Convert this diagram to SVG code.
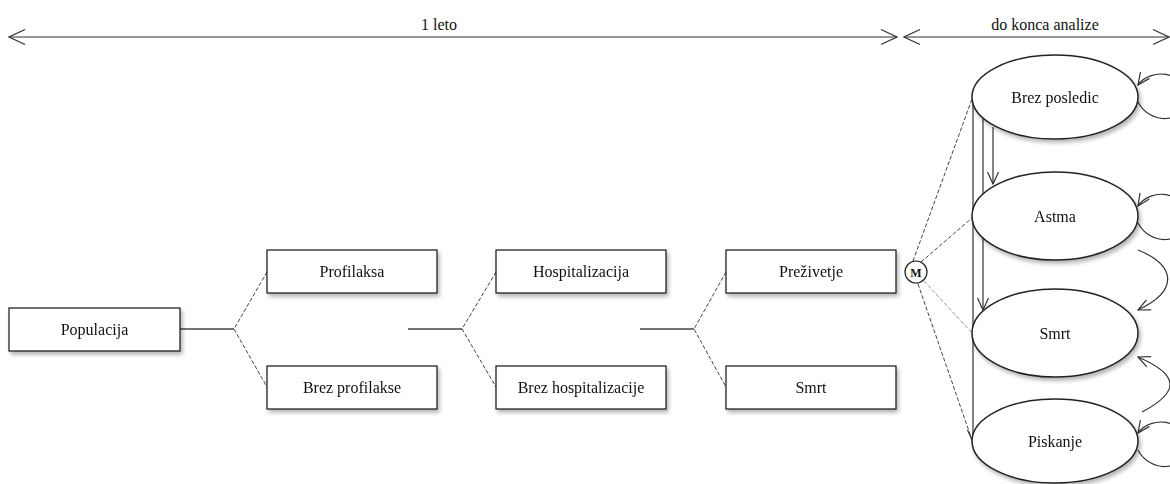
<svg xmlns="http://www.w3.org/2000/svg" width="1170" height="484" viewBox="0 0 1170 484">
<style>
.box{fill:#fff;stroke:#111;stroke-width:1.2}
.ell{fill:#fff;stroke:#222;stroke-width:1.5}
.t{font-family:"Liberation Serif","DejaVu Serif",serif;font-size:16px;fill:#111;text-anchor:middle}
.h{stroke:#444;stroke-width:1.3;fill:none}
.d{stroke:#444;stroke-width:1;stroke-dasharray:4,2;fill:none}
.dl{stroke:#777;stroke-width:0.8;stroke-dasharray:4,2;fill:none}
.a{stroke:#333;stroke-width:1.2;fill:none}
</style>
<defs>
<filter id="sh" x="-20%" y="-20%" width="150%" height="150%">
<feGaussianBlur in="SourceAlpha" stdDeviation="2"/>
<feOffset dx="2" dy="3" result="o"/>
<feComponentTransfer><feFuncA type="linear" slope="0.3"/></feComponentTransfer>
<feMerge><feMergeNode/><feMergeNode in="SourceGraphic"/></feMerge>
</filter>
<marker id="ar" viewBox="0 0 14 14" refX="13" refY="7" markerWidth="14" markerHeight="14" markerUnits="userSpaceOnUse" orient="auto-start-reverse">
<path d="M1,1.5 L13,7 L1,12.5" fill="none" stroke="#333" stroke-width="1.2"/>
</marker>
<marker id="big" viewBox="0 0 18 18" refX="17" refY="9" markerWidth="18" markerHeight="18" markerUnits="userSpaceOnUse" orient="auto-start-reverse">
<path d="M1,1.5 L17,9 L1,16.5" fill="none" stroke="#333" stroke-width="1.2"/>
</marker>
</defs>

<g id="timeline">
<line x1="9" y1="37" x2="897" y2="37" class="a" marker-start="url(#big)" marker-end="url(#big)"/>
<text x="439" y="30" class="t">1 leto</text>
<line x1="904" y1="37" x2="1169" y2="37" class="a" marker-start="url(#big)" marker-end="url(#big)"/>
<text x="1045" y="30" class="t">do konca analize</text>
</g>

<g id="connectors">
<line x1="180" y1="329" x2="234" y2="329" class="h"/>
<polyline points="267,272 234,329 267,387" class="d"/>
<line x1="408" y1="329" x2="462" y2="329" class="h"/>
<polyline points="496,272 462,329 496,387" class="d"/>
<line x1="640" y1="329" x2="694" y2="329" class="h"/>
<polyline points="726,272 694,329 726,387" class="d"/>
<line x1="913" y1="261" x2="972" y2="99" class="d"/>
<line x1="921" y1="262" x2="972" y2="218" class="d"/>
<line x1="924" y1="281" x2="972" y2="333" class="dl"/>
<line x1="918" y1="284" x2="972" y2="440" class="d" stroke-width="1.4"/>
<line x1="973" y1="100" x2="973" y2="442" class="a" marker-end="url(#ar)"/>
<line x1="983" y1="117" x2="983" y2="310" class="a" marker-end="url(#ar)"/>
<line x1="993" y1="127" x2="993" y2="184" class="a" marker-end="url(#ar)"/>
<path d="M1138,102 C1150,125 1185,125 1185,96 C1185,70 1150,68 1138,85" class="a" marker-end="url(#ar)"/>
<path d="M1138,223 C1150,246 1185,246 1185,217 C1185,190 1150,188 1138,206" class="a" marker-end="url(#ar)"/>
<path d="M1138,250 C1175,265 1180,290 1138,310" class="a" marker-end="url(#ar)"/>
<path d="M1142,412 C1180,392 1180,375 1138,357" class="a" marker-end="url(#ar)"/>
<path d="M1138,450 C1150,473 1185,473 1185,444 C1185,418 1150,416 1138,433" class="a" marker-end="url(#ar)"/>
</g>

<g id="n-populacija" filter="url(#sh)"><rect x="9" y="308" width="171" height="43" class="box"/><text x="94.5" y="335" class="t">Populacija</text></g>
<g id="n-profilaksa" filter="url(#sh)"><rect x="267" y="250" width="170" height="43" class="box"/><text x="352" y="277" class="t">Profilaksa</text></g>
<g id="n-brez-profilakse" filter="url(#sh)"><rect x="267" y="366" width="170" height="43" class="box"/><text x="352" y="393" class="t">Brez profilakse</text></g>
<g id="n-hospitalizacija" filter="url(#sh)"><rect x="496" y="250" width="170" height="43" class="box"/><text x="581" y="277" class="t">Hospitalizacija</text></g>
<g id="n-brez-hospitalizacije" filter="url(#sh)"><rect x="496" y="366" width="170" height="43" class="box"/><text x="581" y="393" class="t">Brez hospitalizacije</text></g>
<g id="n-prezivetje" filter="url(#sh)"><rect x="726" y="250" width="170" height="43" class="box"/><text x="811" y="277" class="t">Preživetje</text></g>
<g id="n-smrt1" filter="url(#sh)"><rect x="726" y="366" width="170" height="43" class="box"/><text x="811" y="393" class="t">Smrt</text></g>

<g id="n-m"><circle cx="916" cy="272" r="11" fill="#fff" stroke="#222" stroke-width="1.2"/><text x="916" y="276.5" class="t" style="font-size:12px;font-weight:bold">M</text></g>

<g id="n-brez-posledic" filter="url(#sh)"><ellipse cx="1055" cy="97" rx="83" ry="42" class="ell"/><text x="1055" y="103" class="t">Brez posledic</text></g>
<g id="n-astma" filter="url(#sh)"><ellipse cx="1055" cy="216" rx="83" ry="44" class="ell"/><text x="1055" y="222" class="t">Astma</text></g>
<g id="n-smrt2" filter="url(#sh)"><ellipse cx="1055" cy="333" rx="83" ry="44" class="ell"/><text x="1055" y="339" class="t">Smrt</text></g>
<g id="n-piskanje" filter="url(#sh)"><ellipse cx="1055" cy="441" rx="83" ry="42" class="ell"/><text x="1055" y="447" class="t">Piskanje</text></g>
</svg>
